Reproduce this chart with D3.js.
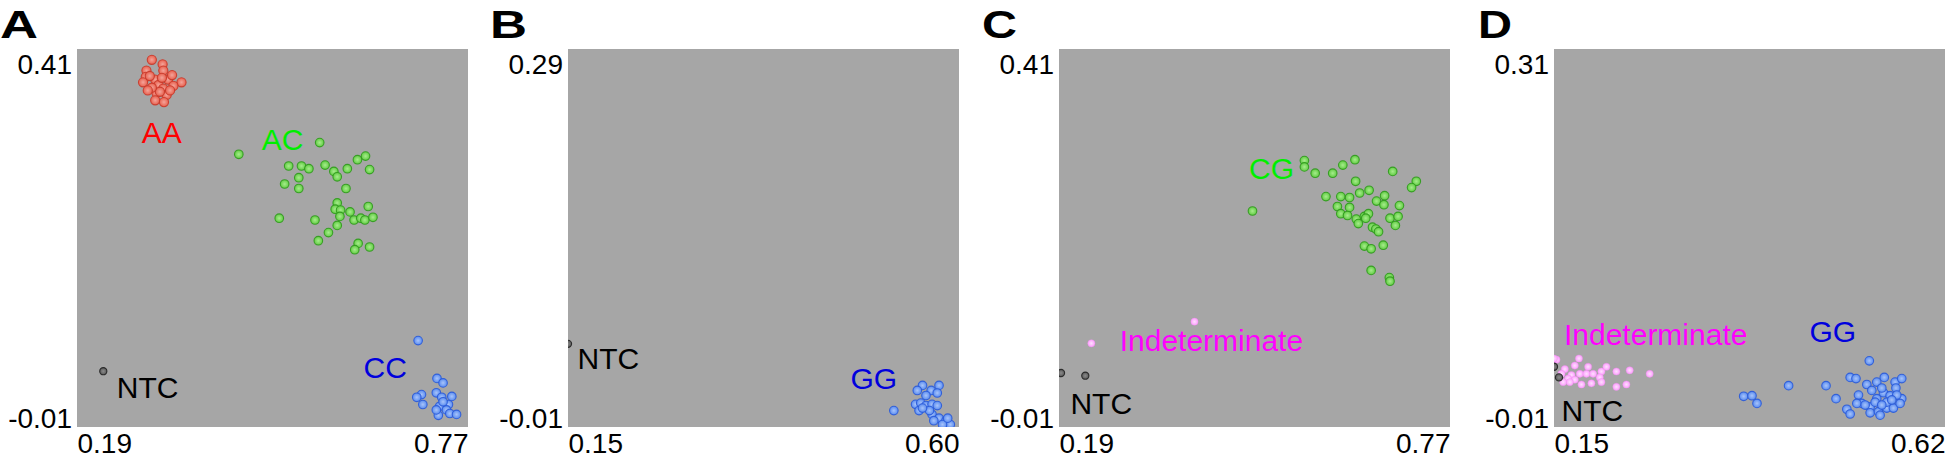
<!DOCTYPE html>
<html><head><meta charset="utf-8">
<script src="https://cdn.jsdelivr.net/npm/d3@7"></script>
<style>html,body{margin:0;padding:0;background:#fff;}svg{display:block;}</style>
</head><body>
<svg id="chart" width="1945" height="454"></svg>
<script>
// ---------- DATA ----------
const panelLetters = ["A", "B", "C", "D"];
const xDomains = [[0.19, 0.77], [0.15, 0.60], [0.19, 0.77], [0.15, 0.62]];
const yDomains = [[-0.01, 0.41], [-0.01, 0.29], [-0.01, 0.41], [-0.01, 0.31]];
const xTickLabels = [["0.19", "0.77"], ["0.15", "0.60"], ["0.19", "0.77"], ["0.15", "0.62"]];
const yTickLabels = [["-0.01", "0.41"], ["-0.01", "0.29"], ["-0.01", "0.41"], ["-0.01", "0.31"]];

// Panel A
const aAA = [[0.301,0.398],[0.317,0.393],[0.318,0.386],[0.293,0.386],[0.292,0.379],[0.288,0.373],[0.306,0.376],[0.325,0.376],[0.345,0.373],[0.333,0.369],[0.311,0.370],[0.318,0.366],[0.308,0.361],[0.323,0.359],[0.306,0.353],[0.319,0.351],[0.313,0.3625],[0.301,0.367],[0.328,0.364],[0.298,0.380],[0.316,0.378],[0.295,0.364],[0.331,0.381]];
const aAC = [[0.550,0.306],[0.430,0.293],[0.618,0.291],[0.606,0.287],[0.504,0.280],[0.523,0.280],[0.534,0.277],[0.558,0.281],[0.571,0.274],[0.576,0.268],[0.591,0.277],[0.624,0.276],[0.519,0.267],[0.498,0.260],[0.519,0.255],[0.589,0.255],[0.576,0.239],[0.573,0.232],[0.581,0.231],[0.595,0.229],[0.622,0.235],[0.580,0.224],[0.601,0.220],[0.611,0.222],[0.617,0.220],[0.629,0.223],[0.490,0.222],[0.543,0.220],[0.576,0.214],[0.563,0.206],[0.548,0.197],[0.607,0.194],[0.602,0.187],[0.624,0.190]];
const aCC = [[0.696,0.086],[0.724,0.044],[0.733,0.039],[0.723,0.028],[0.701,0.026],[0.694,0.023],[0.703,0.015],[0.731,0.023],[0.746,0.024],[0.728,0.013],[0.741,0.015],[0.738,0.009],[0.726,0.003],[0.743,0.005],[0.753,0.004],[0.733,0.018],[0.723,0.009]];
const aNTC = [[0.229,0.052]];

// Panel B
const bGG = [[0.558,0.023],[0.568,0.019],[0.577,0.023],[0.575,0.017],[0.562,0.015],[0.552,0.019],[0.550,0.008],[0.556,0.009],[0.562,0.007],[0.569,0.008],[0.575,0.007],[0.554,0.003],[0.569,0.000],[0.577,-0.003],[0.585,-0.005],[0.590,-0.008],[0.571,-0.005],[0.581,-0.008],[0.566,0.003],[0.558,0.005],[0.587,-0.003],[0.525,0.003]];
const bNTC = [[0.150,0.056]];

// Panel C
const cCG = [[0.554,0.286],[0.554,0.279],[0.570,0.272],[0.596,0.272],[0.611,0.281],[0.629,0.287],[0.685,0.274],[0.630,0.263],[0.720,0.263],[0.713,0.256],[0.477,0.230],[0.586,0.246],[0.608,0.246],[0.621,0.245],[0.636,0.250],[0.650,0.253],[0.673,0.247],[0.661,0.241],[0.672,0.237],[0.695,0.236],[0.603,0.235],[0.621,0.234],[0.608,0.227],[0.618,0.225],[0.631,0.221],[0.634,0.216],[0.643,0.224],[0.649,0.227],[0.645,0.222],[0.655,0.212],[0.660,0.210],[0.664,0.207],[0.681,0.222],[0.693,0.224],[0.689,0.214],[0.643,0.191],[0.653,0.188],[0.671,0.192],[0.653,0.164],[0.680,0.156],[0.681,0.152]];
const cInd = [[0.391,0.107],[0.238,0.083]];
const cNTC = [[0.193,0.050],[0.229,0.047]];

// Panel D
const dInd = [[0.153,0.047],[0.180,0.048],[0.163,0.039],[0.175,0.042],[0.191,0.041],[0.207,0.037],[0.213,0.041],[0.225,0.037],[0.241,0.038],[0.265,0.035],[0.171,0.034],[0.181,0.035],[0.189,0.035],[0.197,0.035],[0.205,0.032],[0.167,0.031],[0.175,0.030],[0.183,0.026],[0.195,0.027],[0.207,0.028],[0.225,0.024],[0.237,0.026],[0.161,0.028],[0.169,0.028],[0.159,0.035],[0.150,0.048]];
const dGG = [[0.529,0.046],[0.378,0.016],[0.388,0.0165],[0.394,0.010],[0.432,0.025],[0.477,0.025],[0.489,0.014],[0.502,0.005],[0.506,0.001],[0.506,0.032],[0.513,0.031],[0.526,0.026],[0.538,0.028],[0.547,0.032],[0.560,0.028],[0.568,0.031],[0.561,0.023],[0.516,0.017],[0.520,0.010],[0.530,0.007],[0.530,0.002],[0.540,0.003],[0.542,0.000],[0.550,0.006],[0.558,0.006],[0.568,0.014],[0.566,0.010],[0.538,0.014],[0.546,0.019],[0.554,0.0165],[0.532,0.021],[0.544,0.023],[0.562,0.017],[0.550,0.011],[0.514,0.010],[0.524,0.0086],[0.556,0.0129],[0.536,0.011],[0.544,0.0086]];
const dNTC = [[0.156,0.032],[0.150,0.041]];

// Group labels: [text, x, y, group]
const labelsA = [["AA",0.286,0.306,"red"],["AC",0.464,0.298,"green"],["CC",0.615,0.045,"blue"],["NTC",0.249,0.022,"black"]];
const labelsB = [["NTC",0.161,0.036,"black"],["GG",0.475,0.020,"blue"]];
const labelsC = [["CG",0.472,0.266,"green"],["Indeterminate",0.280,0.074,"pink"],["NTC",0.207,0.004,"black"]];
const labelsD = [["Indeterminate",0.162,0.059,"pink"],["GG",0.457,0.062,"blue"],["NTC",0.159,-0.005,"black"]];

const panelSeries = [
  [["red", aAA], ["green", aAC], ["blue", aCC], ["black", aNTC]],
  [["blue", bGG], ["black", bNTC]],
  [["green", cCG], ["pink", cInd], ["black", cNTC]],
  [["pink", dInd], ["blue", dGG], ["black", dNTC]]
];
const panelLabels = [labelsA, labelsB, labelsC, labelsD];

// ---------- STYLE / LAYOUT ----------
const plotLefts = [77, 568, 1059, 1554];
const letterX = [[0, 38], [490, 37], [982, 35], [1478, 34]];
const plotW = 391, plotTop = 49, plotBottom = 427;
const bg = "#a6a6a6";
const font = "'Liberation Sans', Arial, Helvetica, sans-serif";
const textColors = {red: "#ff0000", green: "#00ee00", blue: "#0000dd", pink: "#ff00ff", black: "#000000"};
const dotStyle = {
  red:   {c0: "#f4a49a", c1: "#e8604e", s: "#c8382a", r: 4.6},
  green: {c0: "#a6ec8c", c1: "#62cc44", s: "#2f9a1c", r: 4.3},
  blue:  {c0: "#a8c4fa", c1: "#5a8cf0", s: "#2a5ad8", r: 4.3},
  pink:  {c0: "#ffe0ff", c1: "#fca0fc", s: "#f28af2", r: 3.6},
  black: {c0: "#8a8a8a", c1: "#5a5a5a", s: "#222222", r: 3.6}
};

const svg = d3.select("#chart");
const defs = svg.append("defs");
Object.entries(dotStyle).forEach(([k, st]) => {
  const g = defs.append("radialGradient").attr("id", "g-" + k).attr("cx", "50%").attr("cy", "50%").attr("r", "50%");
  g.append("stop").attr("offset", "0%").attr("stop-color", st.c0);
  g.append("stop").attr("offset", "100%").attr("stop-color", st.c1);
});

panelLetters.forEach((L, i) => {
  const x = d3.scaleLinear().domain(xDomains[i]).range([plotLefts[i], plotLefts[i] + plotW]);
  const y = d3.scaleLinear().domain(yDomains[i]).range([plotBottom, plotTop]);

  const clipId = "clip" + i;
  defs.append("clipPath").attr("id", clipId).append("rect")
    .attr("x", x.range()[0]).attr("y", plotTop).attr("width", plotW).attr("height", plotBottom - plotTop);

  // panel letter
  svg.append("text").attr("x", letterX[i][0]).attr("y", 38)
    .attr("font-family", font).attr("font-weight", "bold").attr("font-size", 39)
    .attr("textLength", letterX[i][1]).attr("lengthAdjust", "spacingAndGlyphs")
    .text(L);

  // plot background
  svg.append("rect").attr("x", x.range()[0]).attr("y", plotTop)
    .attr("width", plotW).attr("height", plotBottom - plotTop).attr("fill", bg);

  // y axis (end ticks only)
  const yAx = svg.append("g").attr("transform", `translate(${x.range()[0]},0)`)
    .call(d3.axisLeft(y).tickValues(yDomains[i]).tickSize(0).tickPadding(5)
      .tickFormat((d, j) => yTickLabels[i][j]));
  yAx.select(".domain").remove();
  yAx.selectAll("text").attr("font-family", font).attr("font-size", 28).attr("fill", "#000")
    .attr("dy", (d, j) => j === 0 ? "0em" : "0.86em");

  // x axis (end ticks only)
  const xAx = svg.append("g").attr("transform", `translate(0,${plotBottom})`)
    .call(d3.axisBottom(x).tickValues(xDomains[i]).tickSize(0).tickPadding(6)
      .tickFormat((d, j) => xTickLabels[i][j]));
  xAx.select(".domain").remove();
  xAx.selectAll("text").attr("font-family", font).attr("font-size", 28).attr("fill", "#000")
    .attr("text-anchor", (d, j) => j === 0 ? "start" : "end").attr("dy", "0.72em");

  // points
  const pg = svg.append("g").attr("clip-path", `url(#${clipId})`);
  panelSeries[i].forEach(([grp, pts]) => {
    const st = dotStyle[grp];
    pg.append("g").selectAll("circle").data(pts).join("circle")
      .attr("cx", d => x(d[0])).attr("cy", d => y(d[1])).attr("r", st.r)
      .attr("fill", `url(#g-${grp})`).attr("stroke", st.s).attr("stroke-width", grp === "pink" ? 0.6 : 1.1)
      .attr("stroke-opacity", grp === "pink" ? 0.6 : 0.9);
  });

  // group labels
  svg.append("g").selectAll("text").data(panelLabels[i]).join("text")
    .attr("x", d => x(d[1])).attr("y", d => y(d[2]))
    .attr("font-family", font).attr("font-size", 30)
    .attr("fill", d => textColors[d[3]])
    .text(d => d[0]);
});
</script>
</body></html>
